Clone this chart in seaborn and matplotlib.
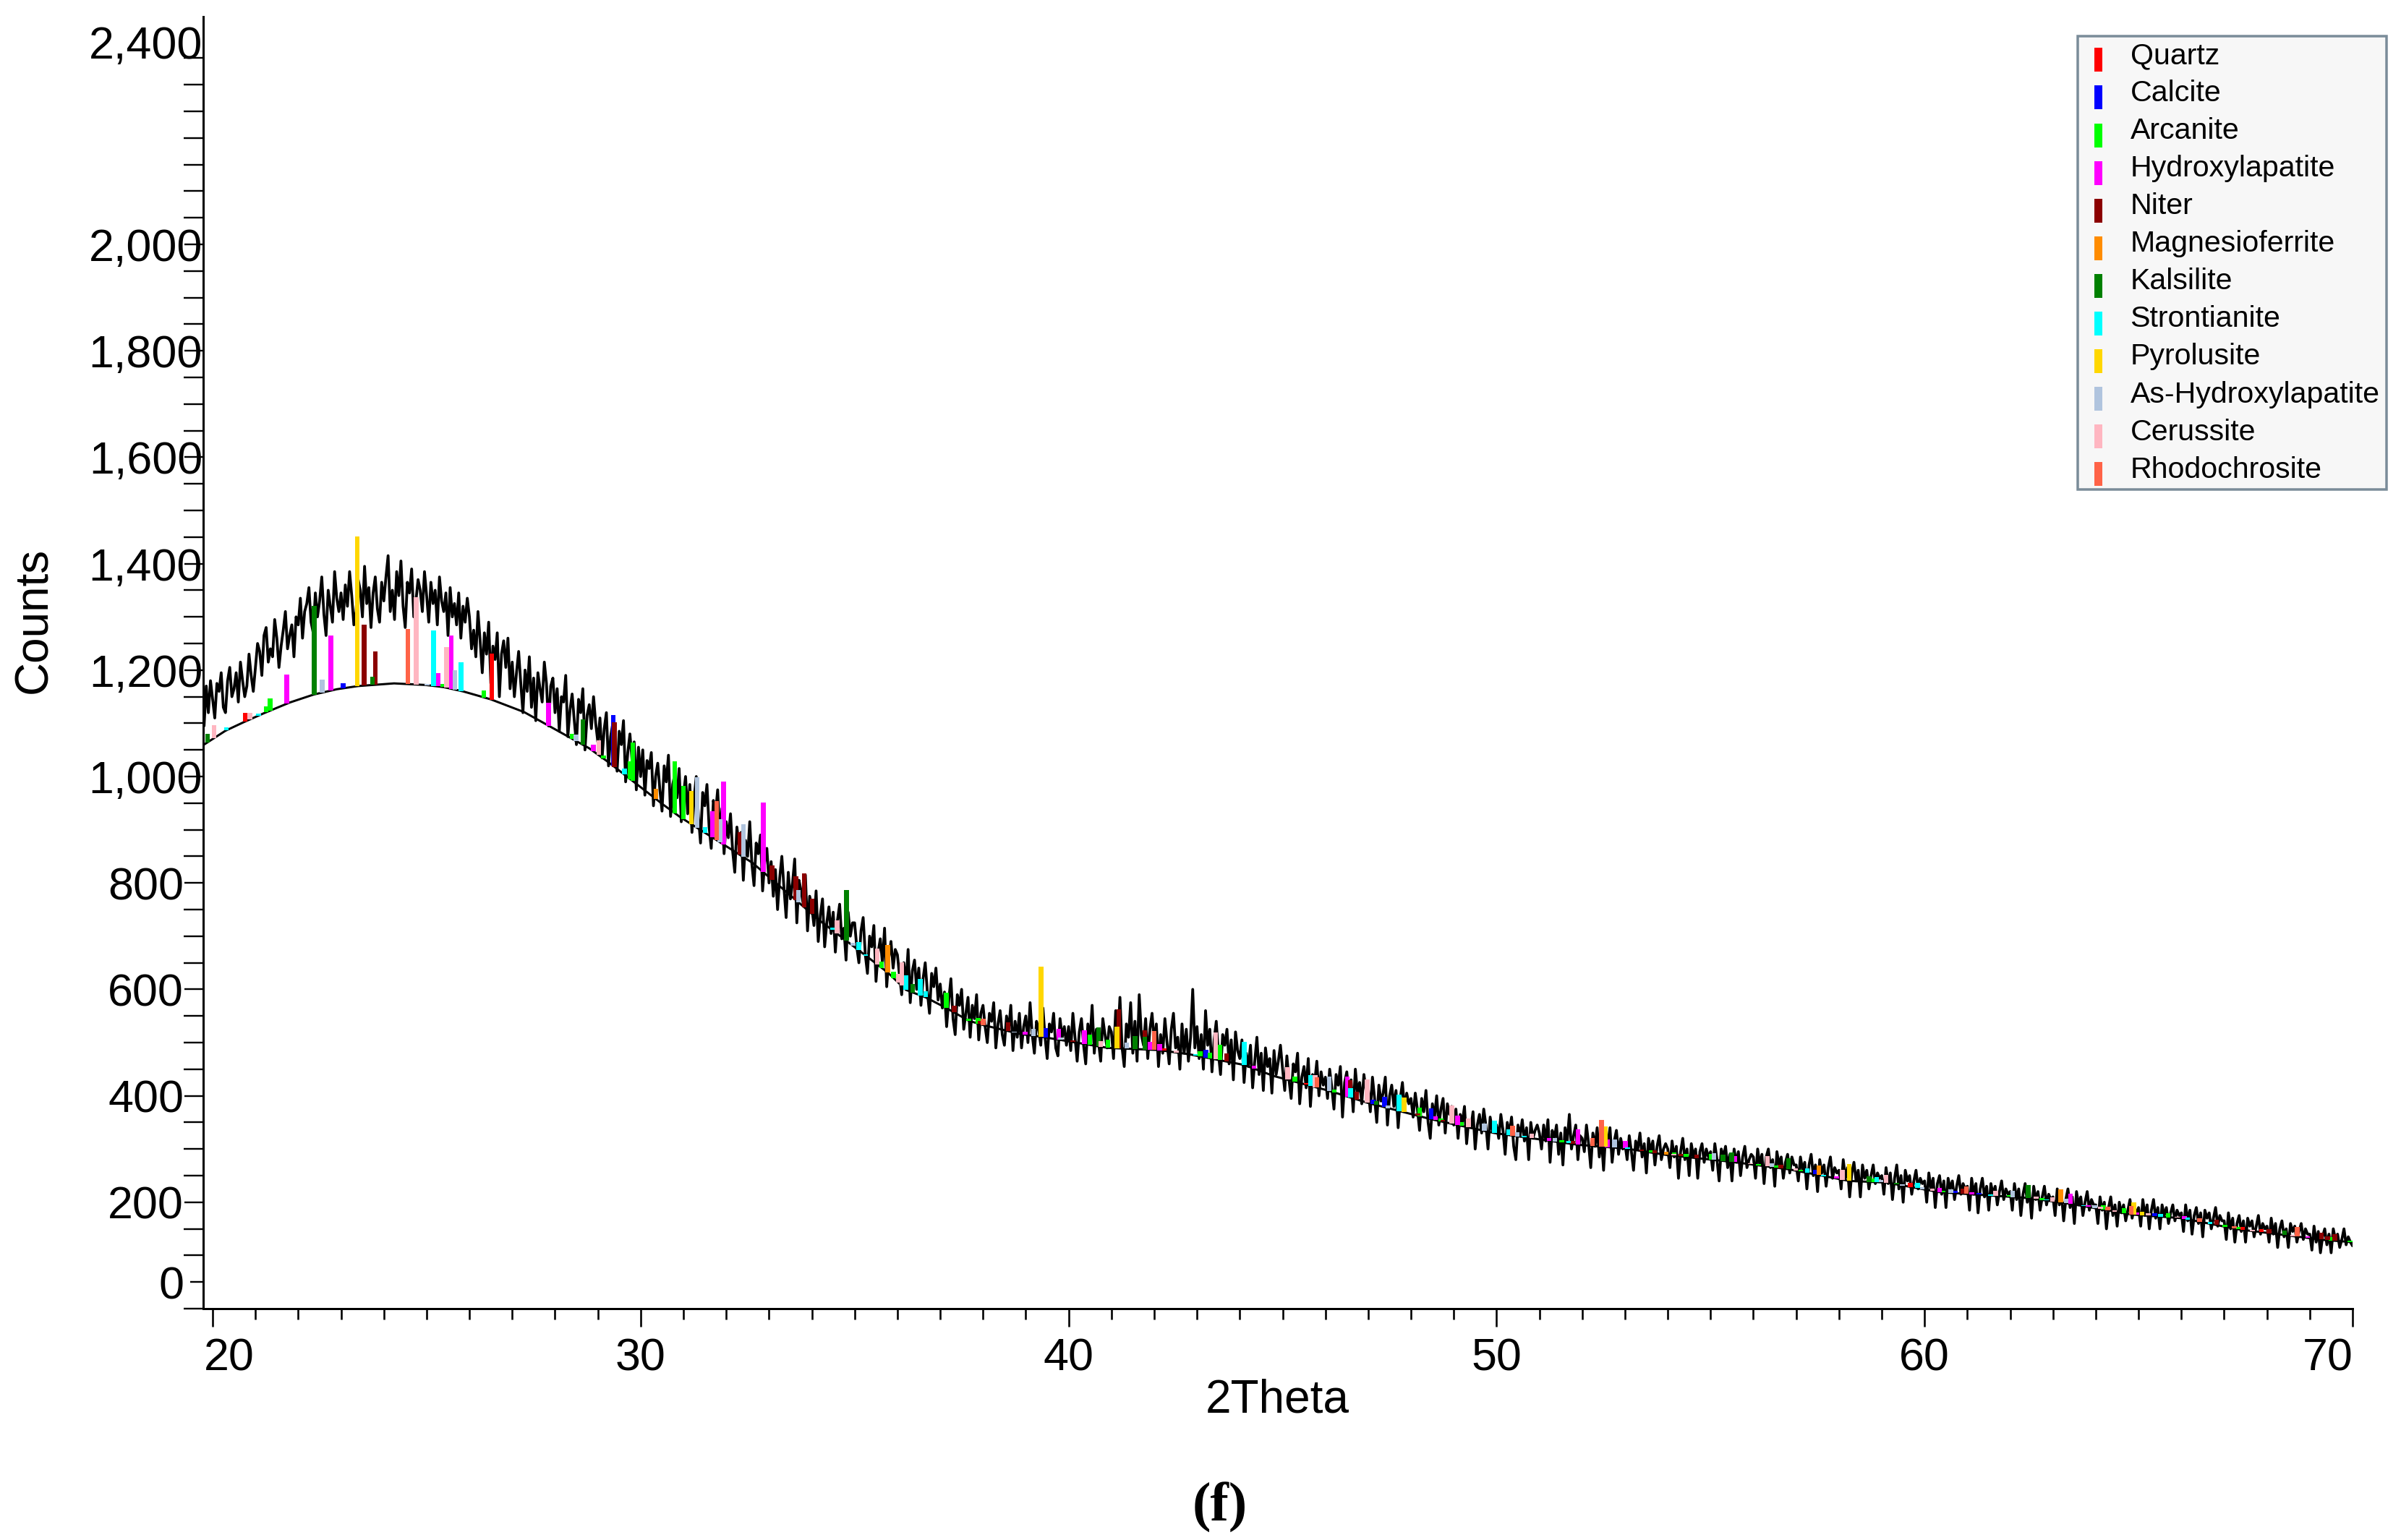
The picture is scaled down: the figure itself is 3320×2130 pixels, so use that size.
import numpy as np
import pandas as pd
import seaborn as sns
import matplotlib.pyplot as plt
from matplotlib.legend_handler import HandlerPatch
from matplotlib.patches import Patch, Rectangle
from matplotlib.transforms import ScaledTranslation

# scan grid of the pattern, counts (one row per degree)
scan_start = 19.8
scan_step = 0.05
counts = [
    1095, 1170, 1120, 1180,
    1145, 1110, 1175, 1160, 1195, 1130, 1120, 1180, 1205, 1150, 1165, 1195, 1140, 1215, 1180, 1150, 1170, 1230, 1190, 1160,
    1205, 1250, 1235, 1190, 1265, 1280, 1215, 1240, 1225, 1295, 1260, 1205, 1245, 1275, 1310, 1240, 1265, 1285, 1225, 1300,
    1285, 1335, 1260, 1310, 1325, 1355, 1290, 1270, 1345, 1300, 1330, 1375, 1305, 1265, 1350, 1320, 1290, 1385, 1335, 1310,
    1345, 1295, 1360, 1320, 1385, 1340, 1285, 1310, 1370, 1350, 1300, 1395, 1325, 1355, 1280, 1345, 1375, 1315, 1290, 1365,
    1330, 1375, 1415, 1310, 1350, 1295, 1385, 1340, 1405, 1320, 1280, 1365, 1345, 1390, 1300, 1330, 1370, 1350, 1310, 1385,
    1340, 1290, 1365, 1325, 1350, 1285, 1375, 1330, 1310, 1345, 1265, 1355, 1300, 1325, 1285, 1345, 1260, 1320, 1290, 1335,
    1300, 1240, 1275, 1225, 1310, 1255, 1195, 1270, 1230, 1290, 1175, 1245, 1220, 1270, 1150, 1230, 1255, 1205, 1260, 1165,
    1215, 1150, 1195, 1235, 1175, 1120, 1200, 1160, 1225, 1130, 1185, 1105, 1195, 1165, 1140, 1215, 1175, 1095, 1170, 1185,
    1120, 1165, 1085, 1150, 1140, 1190, 1075, 1125, 1155, 1105, 1060, 1145, 1120, 1165, 1050, 1115, 1135, 1090, 1150, 1100,
    1065, 1110, 1035, 1090, 1120, 1020, 1075, 1100, 1050, 1010, 1085, 1060, 1105, 990, 1045, 1080, 1030, 1065, 975, 1055,
    1000, 1050, 965, 1030, 1015, 1045, 945, 1000, 1025, 975, 935, 1020, 990, 1040, 925, 985, 1005, 960, 1015, 915,
    965, 1000, 930, 985, 895, 960, 1000, 925, 875, 970, 945, 985, 905, 865, 955, 930, 975, 890, 940, 855,
    915, 885, 930, 860, 820, 905, 870, 895, 805, 880, 850, 915, 835, 795, 875, 855, 890, 785, 840, 865,
    800, 840, 775, 825, 750, 810, 850, 790, 735, 820, 770, 800, 845, 725, 805, 785, 760, 815, 710, 775,
    755, 720, 785, 690, 740, 770, 680, 725, 755, 705, 745, 670, 730, 760, 695, 715, 655, 745, 700, 725,
    725, 680, 650, 710, 735, 665, 630, 700, 680, 720, 615, 670, 695, 650, 715, 605, 660, 690, 640, 675,
    665, 625, 590, 650, 610, 675, 575, 635, 655, 600, 640, 570, 620, 650, 595, 555, 630, 605, 640, 580,
    610, 565, 595, 530, 580, 620, 545, 515, 590, 570, 600, 525, 555, 585, 510, 570, 545, 590, 505, 555,
    570, 530, 500, 555, 540, 575, 490, 535, 560, 515, 495, 550, 525, 570, 485, 540, 510, 555, 490, 530,
    550, 500, 575, 515, 480, 540, 525, 495, 565, 510, 470, 535, 520, 555, 490, 475, 545, 510, 530, 495,
    530, 485, 555, 510, 465, 520, 545, 495, 460, 535, 505, 570, 480, 525, 500, 465, 545, 515, 490, 530,
    520, 470, 560, 505, 585, 490, 455, 535, 510, 575, 480, 540, 465, 590, 515, 495, 545, 470, 525, 555,
    500, 535, 455, 515, 480, 545, 500, 460, 525, 555, 490, 510, 450, 535, 480, 525, 465, 510, 600, 490,
    530, 470, 515, 450, 560, 495, 525, 445, 505, 540, 480, 440, 515, 495, 525, 460, 505, 430, 520, 485,
    470, 505, 425, 480, 455, 495, 415, 465, 510, 440, 480, 410, 490, 455, 470, 405, 485, 440, 465, 495,
    450, 410, 475, 430, 395, 460, 445, 480, 385, 435, 455, 415, 470, 380, 440, 425, 465, 400, 445, 420,
    435, 395, 450, 415, 375, 440, 420, 455, 360, 425, 445, 400, 430, 370, 450, 405, 425, 385, 440, 410,
    415, 370, 435, 395, 350, 420, 390, 405, 435, 345, 400, 420, 380, 410, 340, 395, 425, 375, 405, 385,
    395, 360, 405, 375, 335, 395, 370, 410, 350, 320, 385, 360, 400, 345, 375, 395, 330, 385, 365, 380,
    345, 375, 320, 365, 350, 380, 310, 355, 340, 370, 300, 345, 365, 330, 375, 345, 300, 360, 335, 350,
    345, 320, 365, 335, 290, 350, 330, 360, 305, 280, 345, 325, 355, 315, 340, 280, 350, 320, 335, 345,
    330, 300, 345, 315, 355, 275, 335, 320, 345, 290, 330, 270, 340, 315, 365, 300, 325, 345, 280, 325,
    320, 295, 345, 310, 265, 330, 305, 340, 285, 320, 260, 330, 310, 340, 275, 315, 335, 290, 320, 300,
    310, 280, 325, 295, 260, 315, 300, 330, 285, 310, 255, 320, 295, 315, 270, 305, 325, 280, 300, 310,
    300, 265, 315, 285, 305, 245, 295, 320, 280, 300, 250, 310, 285, 300, 245, 295, 310, 275, 300, 285,
    295, 260, 310, 280, 240, 300, 285, 305, 265, 290, 240, 300, 275, 295, 250, 285, 305, 265, 280, 290,
    285, 245, 300, 270, 290, 235, 285, 300, 265, 280, 230, 295, 270, 285, 245, 275, 290, 255, 285, 270,
    270, 240, 285, 260, 275, 225, 270, 290, 250, 270, 220, 280, 255, 270, 230, 265, 285, 245, 265, 255,
    260, 225, 280, 245, 265, 210, 255, 275, 240, 260, 210, 270, 245, 260, 225, 250, 270, 235, 255, 245,
    250, 215, 265, 235, 255, 205, 245, 270, 225, 250, 200, 260, 240, 250, 215, 240, 260, 225, 245, 235,
    240, 200, 255, 225, 245, 190, 235, 250, 215, 240, 190, 245, 225, 240, 205, 230, 250, 215, 235, 225,
    230, 185, 245, 215, 235, 180, 225, 245, 210, 230, 185, 235, 215, 230, 195, 220, 240, 205, 225, 215,
    220, 185, 235, 205, 225, 175, 215, 235, 200, 220, 170, 230, 205, 220, 185, 210, 230, 195, 215, 205,
    210, 175, 225, 195, 215, 165, 205, 225, 190, 210, 160, 220, 195, 210, 175, 200, 220, 185, 205, 195,
    195, 160, 210, 185, 200, 150, 190, 210, 175, 195, 155, 200, 180, 195, 165, 185, 205, 170, 190, 180,
    190, 155, 205, 175, 195, 150, 185, 205, 170, 190, 150, 195, 175, 190, 160, 180, 195, 165, 185, 175,
    180, 145, 195, 165, 185, 140, 175, 190, 160, 180, 135, 185, 170, 180, 150, 170, 190, 155, 175, 165,
    165, 130, 180, 150, 170, 125, 160, 175, 145, 165, 125, 170, 155, 165, 135, 155, 175, 140, 160, 150,
    155, 125, 170, 140, 160, 115, 150, 165, 135, 150, 115, 160, 145, 155, 125, 145, 160, 130, 150, 140,
    140, 110, 155, 125, 145, 105, 135, 150, 120, 140, 105, 150, 130, 140, 115, 130, 150, 120, 135, 125,
    118,
]

# fitted background below the pattern
bg_theta = [19.78, 20.3, 20.75, 21.2, 21.8, 22.36, 22.9, 23.4, 24.24, 24.98, 25.4, 25.85, 26.5, 27.28, 28.8, 29.23, 30.53,
            30.92, 32.61, 34.19, 34.52, 35.77, 36.2, 36.66, 37.14, 37.67, 38.0, 38.88, 39.36, 40.92, 42.1, 42.82, 44.1,
            44.8, 46.06, 46.98, 48.47, 49.95, 51.9, 53.01, 53.96, 55.49, 56.82, 58.24, 59.1, 60.35, 60.9, 62.42, 63.41,
            64.83, 66.0, 67.34, 69.35, 70.0]
bg_counts = [1059, 1086, 1103, 1119, 1139, 1154, 1164, 1170, 1175, 1172, 1168, 1160, 1145, 1121, 1053, 1028, 947,
             924, 838, 729, 709, 632, 599, 585, 565, 541, 533, 516, 511, 490, 486, 478, 458,
             437, 410, 387, 356, 330, 308, 301, 289, 276, 262, 240, 237, 219, 216, 208, 197,
             177, 170, 149, 129, 125]

# phase sticks: 2theta and height above the background
quartz_pos = [20.76, 26.52, 42.24, 45.56, 59.67, 67.43, 67.87]
quartz_h = [16, 86, 5, 3, 7, 6, 6]
calcite_pos = [23.05, 29.36, 39.46, 43.21, 47.11, 47.38, 48.47, 57.45, 60.72, 61.27, 65.38]
calcite_h = [9, 96, 18, 14, 8, 20, 20, 8, 5, 3, 5]
arcanite_pos = [21.25, 21.34, 25.37, 26.34, 28.4, 29.13, 29.76, 29.82, 30.8, 31.0, 35.63, 35.91, 37.14, 37.67, 37.89,
                40.5, 40.92, 43.07, 43.3, 43.54, 45.29, 46.21, 48.2, 48.7, 49.18, 51.52, 53.61, 54.15, 54.43, 55.01,
                56.12, 56.53, 57.11, 58.78, 60.43, 61.97, 62.74, 64.18, 64.66, 65.69, 67.02, 67.33, 69.5, 69.94]
arcanite_h = [11, 23, 5, 13, 9, 5, 33, 72, 98, 62, 11, 12, 29, 4, 11,
              19, 16, 9, 11, 29, 9, 5, 16, 5, 7, 4, 4, 6, 6, 11,
              3, 4, 4, 6, 3, 3, 3, 8, 9, 8, 4, 4, 7, 3]
hydroxylapatite_pos = [21.73, 22.76, 25.27, 25.58, 27.85, 28.9, 31.68, 31.94, 32.87, 38.98, 39.77, 40.37, 41.91, 42.13,
                       44.33, 46.51, 48.57, 49.09, 51.23, 51.9, 52.59, 53.01, 55.57, 57.94, 60.35, 61.1, 63.41, 63.82,
                       64.96, 66.07, 68.95]
hydroxylapatite_h = [55, 104, 25, 100, 43, 13, 50, 119, 131, 5, 20, 26, 15, 12,
                     6, 38, 7, 18, 5, 29, 14, 14, 12, 4, 8, 4, 19, 3,
                     5, 5, 3]
niter_pos = [23.54, 23.8, 29.39, 32.32, 33.07, 33.63, 33.82, 34.01, 37.33, 37.93, 38.59, 40.1, 41.17, 41.78, 43.69,
             46.58, 46.73, 48.16, 48.74, 51.78, 53.39, 53.69, 54.3, 54.67, 56.64, 60.9, 66.82, 68.05, 69.27, 69.42, 69.59]
niter_h = [115, 62, 84, 43, 26, 45, 63, 29, 13, 6, 17, 3, 73, 36, 15,
           32, 14, 4, 3, 6, 3, 5, 5, 6, 7, 10, 10, 8, 13, 7, 13]
magnesioferrite_pos = [30.36, 35.77, 53.96, 57.53, 63.18]
magnesioferrite_h = [19, 52, 6, 18, 24]
kalsilite_pos = [19.88, 22.37, 23.73, 28.65, 34.81, 36.36, 40.7, 41.55, 41.78, 47.19, 55.29, 55.49, 56.82, 58.7, 59.35, 62.42, 68.41]
kalsilite_h = [16, 167, 16, 48, 95, 16, 36, 25, 24, 7, 12, 17, 20, 10, 3, 24, 9]
strontianite_pos = [20.32, 21.07, 25.16, 25.8, 29.62, 31.51, 34.48, 35.1, 35.26, 36.2, 36.53, 36.66, 42.96, 44.1, 45.66,
                    46.59, 47.72, 49.95, 50.29, 50.64, 51.68, 53.06, 57.26, 57.64, 58.88, 59.84, 61.54, 62.84, 63.71,
                    65.51, 66.15, 66.67]
strontianite_h = [6, 4, 104, 54, 11, 11, 4, 16, 3, 28, 30, 12, 3, 44, 20,
                  18, 31, 23, 11, 2, 5, 3, 9, 2, 10, 10, 2, 2, 2,
                  5, 4, 3]
pyrolusite_pos = [23.38, 31.19, 39.36, 41.13, 47.84, 52.54, 58.24, 64.89, 65.08]
pyrolusite_h = [281, 63, 132, 41, 27, 38, 32, 23, 6]
as_hydroxylapatite_pos = [22.56, 25.01, 25.66, 28.49, 31.32, 31.85, 32.4, 33.69, 34.96, 38.73, 39.18, 39.81, 41.36, 46.09,
                          47.46, 49.71, 50.48, 51.36, 52.76, 55.08, 56.43, 58.98, 59.48, 59.95, 60.61, 62.06, 63.31, 63.98]
as_hydroxylapatite_h = [24, 2, 36, 12, 95, 43, 61, 23, 5, 2, 13, 5, 11, 27,
                        5, 13, 7, 6, 16, 12, 7, 5, 2, 3, 6, 12, 9, 5]
cerussite_pos = [20.03, 20.87, 24.76, 25.47, 29.02, 34.59, 35.53, 36.02, 36.1, 40.75, 42.52, 43.44, 45.12, 45.76, 46.98,
                 48.95, 49.34, 50.82, 54.14, 55.93, 56.33, 56.99, 58.08, 59.1, 60.18, 61.66, 62.61, 62.99, 64.11, 64.44,
                 65.23, 65.9, 67.66, 68.61]
cerussite_h = [25, 12, 164, 76, 28, 25, 30, 16, 44, 11, 4, 51, 23, 22, 44,
               34, 16, 8, 3, 2, 19, 4, 18, 14, 4, 9, 5, 8, 5, 2,
               5, 2, 2, 2]
rhodochrosite_pos = [24.56, 31.78, 38.0, 42.0, 45.8, 50.37, 52.24, 52.45, 60.98, 64.28, 64.83, 66.43, 67.24, 68.71]
rhodochrosite_h = [103, 73, 12, 35, 19, 19, 15, 50, 14, 7, 16, 6, 5, 18]

phase_names = ['Quartz', 'Calcite', 'Arcanite', 'Hydroxylapatite', 'Niter', 'Magnesioferrite', 'Kalsilite',
               'Strontianite', 'Pyrolusite', 'As-Hydroxylapatite', 'Cerussite', 'Rhodochrosite']
phase_colors = ['#ff0000', '#0000ff', '#00ff00', '#ff00ff', '#8b0000', '#ff8c00', '#008000',
                '#00ffff', '#ffd700', '#b0c4de', '#ffb6c1', '#ff6347']
phase_pos = [quartz_pos, calcite_pos, arcanite_pos, hydroxylapatite_pos, niter_pos, magnesioferrite_pos, kalsilite_pos,
             strontianite_pos, pyrolusite_pos, as_hydroxylapatite_pos, cerussite_pos, rhodochrosite_pos]
phase_h = [quartz_h, calcite_h, arcanite_h, hydroxylapatite_h, niter_h, magnesioferrite_h, kalsilite_h,
           strontianite_h, pyrolusite_h, as_hydroxylapatite_h, cerussite_h, rhodochrosite_h]

x_major = [20, 30, 40, 50, 60, 70]
# the source figure prints "0" on the 50 tick and "2,400" above its last tick
y_label_pos = [50, 200, 400, 600, 800, 1000, 1200, 1400, 1600, 1800, 2000, 2380]
y_labels = ['0', '200', '400', '600', '800', '1,000', '1,200', '1,400', '1,600', '1,800', '2,000', '2,400']

DPI = 200
sns.set_theme(style='ticks')
plt.rcParams['font.family'] = ['Liberation Sans', 'DejaVu Sans']
plt.rcParams.update({'text.color': 'black', 'axes.labelcolor': 'black', 'axes.edgecolor': 'black',
                     'xtick.color': 'black', 'ytick.color': 'black'})

fig = plt.figure(figsize=(16.6, 10.65), dpi=DPI)
ax = fig.add_axes([281 / 3320, 1 - 1810 / 2130, (3253 - 281) / 3320, (1810 - 23) / 2130])


def px(n):
    """Pixels of the full-size picture to points."""
    return n * 72 / DPI


def shift(dx):
    """Offset of a tick label, in pixels."""
    return ScaledTranslation(dx / DPI, 0, fig.dpi_scale_trans)


def swatch(legend, orig_handle, xdescent, ydescent, width, height, fontsize):
    """Narrow legend bar, inset to the left and a little below its text."""
    return Rectangle((width - px(11) - xdescent, (height - px(33)) / 2 - ydescent - px(9)), px(11), px(33))


pattern = pd.DataFrame({'theta': scan_start + scan_step * np.arange(len(counts)), 'counts': counts})
pattern = pattern[pattern['theta'] <= 70.001]
sns.lineplot(data=pattern, x='theta', y='counts', color='black', lw=px(3.8), ax=ax, errorbar=None, estimator=None)
sns.lineplot(x=bg_theta, y=bg_counts, color='black', lw=px(3), ax=ax, errorbar=None, estimator=None)

# sticks sit on the background curve
handles = []
for name, color, pos, h in zip(phase_names, phase_colors, phase_pos, phase_h):
    base = np.interp(pos, bg_theta, bg_counts)
    ax.bar(pos, h, bottom=base, width=0.11, color=color, linewidth=0, zorder=3)
    handles.append(Patch(facecolor=color, edgecolor='none', label=name))

ax.set_xlim(19.78, 70)
ax.set_ylim(0, 2428)
sns.despine(ax=ax)
for side in ['left', 'bottom']:
    ax.spines[side].set_linewidth(px(3))

# x axis ticks
ax.set_xticks(x_major)
ax.set_xticks([v for v in range(20, 71) if v not in x_major], minor=True)
ax.tick_params(axis='x', which='major', length=px(25), width=px(2.6), pad=px(15), labelsize=22.6)
ax.tick_params(axis='x', which='minor', length=px(10), width=px(2.6))
for t in ax.xaxis.get_minor_ticks():
    if t.get_loc() % 5 == 0:
        t.tick1line.set_markersize(px(15))
x_labels = ax.get_xticklabels()
x_labels[0].set_transform(x_labels[0].get_transform() + shift(23))
x_labels[-1].set_transform(x_labels[-1].get_transform() + shift(-34))

# y axis ticks
ax.set_yticks(y_label_pos, y_labels)
ax.set_yticks([v for v in range(0, 2351, 50) if v not in y_label_pos], minor=True)
ax.tick_params(axis='y', which='major', length=px(26), width=px(2.4), pad=px(1), labelsize=22.6)
ax.tick_params(axis='y', which='minor', length=px(18), width=px(2.4))
for t in ax.yaxis.get_minor_ticks():
    if t.get_loc() % 100 == 0:
        t.tick1line.set_markersize(px(23))
    if t.get_loc() == 0:
        t.tick1line.set_markersize(px(27))
y_ticks = ax.yaxis.get_major_ticks()
y_ticks[0].tick1line.set_markersize(px(18))
y_ticks[-1].tick1line.set_markersize(0)
# thousands run up to the axis line, hundreds stop at the tick end
for t, lab in zip(y_ticks, y_labels):
    if ',' in lab:
        t.label1.set_transform(t.label1.get_transform() + shift(26))

ax.set_xlabel('2Theta', fontsize=23)
ax.xaxis.label.set_va('center')
ax.xaxis.set_label_coords(0.4997, -0.071)
ax.set_ylabel('Counts', fontsize=23)
ax.yaxis.label.set_va('center')
ax.yaxis.set_label_coords(-0.0787, 0.533)

leg = ax.legend(handles=handles, loc='upper left', bbox_to_anchor=(2873 / 3320, 1 - 50 / 2130, 427 / 3320, 0),
                bbox_transform=fig.transFigure, mode='expand', borderaxespad=0, fontsize=14.8, frameon=True,
                fancybox=False, facecolor='#f7f7f7', edgecolor='#7a8c99', framealpha=1, handlelength=0.634,
                handleheight=0.8, handletextpad=0.93, labelspacing=0.341, borderpad=0.2,
                handler_map={Patch: HandlerPatch(patch_func=swatch)})
leg.get_frame().set_linewidth(px(3.5))

fig.text(1687 / 3320, 1 - 2085 / 2130, '(f)', family='Liberation Serif', fontweight='bold', fontsize=27.5,
         ha='center', va='center', color='black')

fig.savefig('out.png', dpi=DPI, facecolor='white')
